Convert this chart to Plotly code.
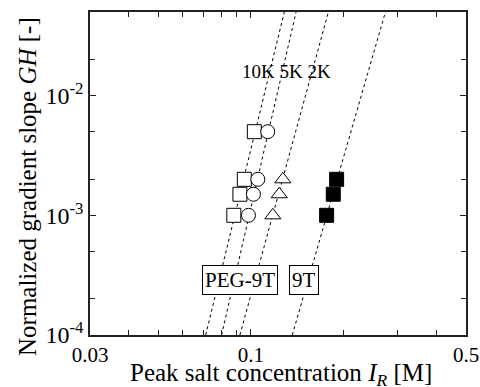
import numpy as np
import plotly.graph_objects as go

# ---- data ----
sq10k_x = [0.0880, 0.0921, 0.0952, 0.1026]
sq10k_y = [1e-3, 1.5e-3, 2e-3, 5e-3]
ci5k_x = [0.0982, 0.1019, 0.1053, 0.1134]
ci5k_y = [1e-3, 1.5e-3, 2e-3, 5e-3]
tri2k_x = [0.1178, 0.1236, 0.1270]
tri2k_y = [1e-3, 1.5e-3, 2e-3]
t9_x = [0.1762, 0.1852, 0.1899]
t9_y = [1e-3, 1.5e-3, 2e-3]

line_y = [1e-4, 0.05]
line10k_x = [0.0713, 0.1284]
line5k_x = [0.0803, 0.1402]
line2k_x = [0.0921, 0.1786]
line9t_x = [0.1363, 0.2736]

x_major = [0.03, 0.1, 0.5]
x_major_text = ["0.03", "0.1", "0.5"]
x_minor = [0.04, 0.05, 0.06, 0.07, 0.08, 0.09, 0.2, 0.3, 0.4]
y_major = [1e-4, 1e-3, 1e-2]
y_major_text = ["10<sup>-4</sup>", "10<sup>-3</sup>", "10<sup>-2</sup>"]
y_minor = [2e-4, 5e-4, 2e-3, 5e-3, 2e-2, 5e-2]

FONT = "Liberation Serif"

fig = go.Figure()
dash = dict(color="black", width=1, dash="3px,3px")
for lx in (line10k_x, line5k_x, line2k_x, line9t_x):
    fig.add_trace(go.Scatter(x=lx, y=line_y, mode="lines", line=dash,
                             showlegend=False, hoverinfo="skip"))

mline = dict(color="black", width=1)
fig.add_trace(go.Scatter(x=sq10k_x, y=sq10k_y, mode="markers",
                         marker=dict(symbol="square", size=14, color="white", line=mline),
                         showlegend=False))
fig.add_trace(go.Scatter(x=ci5k_x, y=ci5k_y, mode="markers",
                         marker=dict(symbol="circle", size=14, color="white", line=mline),
                         showlegend=False))
fig.add_trace(go.Scatter(x=tri2k_x, y=tri2k_y, mode="markers",
                         marker=dict(symbol="triangle-up", size=14, color="white", line=mline),
                         showlegend=False))
fig.add_trace(go.Scatter(x=t9_x, y=t9_y, mode="markers",
                         marker=dict(symbol="square", size=14, color="black", line=mline),
                         showlegend=False))

axcommon = dict(type="log", showline=True, linecolor="#222", linewidth=1.5,
                mirror="allticks", ticks="inside", ticklen=6, tickwidth=1,
                tickcolor="#222", showgrid=False, zeroline=False, automargin=False)

fig.update_xaxes(range=[np.log10(0.03), np.log10(0.5)], tickmode="array",
                 tickvals=x_major, ticktext=x_major_text,
                 minor=dict(tickmode="array", tickvals=x_minor, ticks="inside",
                            ticklen=5, tickcolor="#222", showgrid=False),
                 tickfont=dict(family=FONT, size=21, color="black"), **axcommon)
fig.update_yaxes(range=[-4, np.log10(0.05)], tickmode="array",
                 tickvals=y_major, ticktext=y_major_text,
                 minor=dict(tickmode="array", tickvals=y_minor, ticks="inside",
                            ticklen=5, tickcolor="#222", showgrid=False),
                 tickfont=dict(family=FONT, size=24, color="black"), **axcommon)

H = 323.0
W = 376.0
def px(xp):
    return (xp - 90) / W
def py(yp):
    return (335 - yp) / H

annots = [
    dict(text="Peak salt concentration <i>I<sub>R</sub></i> [M]", x=px(281), y=py(374),
         xanchor="center", yanchor="middle", font=dict(family=FONT, size=25, color="black")),
    dict(text="Normalized gradient slope <i>GH</i> [-]", x=px(27), y=py(187),
         xanchor="center", yanchor="middle", textangle=-90,
         font=dict(family=FONT, size=25, color="black")),
    dict(text="10K 5K 2K", x=px(286.5), y=py(71), xanchor="center", yanchor="middle",
         font=dict(family=FONT, size=19, color="black")),
    dict(text="PEG-9T", x=px(239.7), y=py(279.6), xanchor="center", yanchor="middle",
         font=dict(family=FONT, size=21, color="black"), bordercolor="black",
         borderwidth=1, borderpad=2, bgcolor="white"),
    dict(text="9T", x=px(304), y=py(279.6), xanchor="center", yanchor="middle",
         font=dict(family=FONT, size=21, color="black"), bordercolor="black",
         borderwidth=1, borderpad=2, bgcolor="white"),
]
for a in annots:
    fig.add_annotation(xref="paper", yref="paper", showarrow=False, **a)

fig.update_layout(width=480, height=387, margin=dict(l=90, r=14, t=12, b=52),
                  paper_bgcolor="white", plot_bgcolor="white",
                  font=dict(family=FONT, color="black"))

fig.write_html("out.html")
